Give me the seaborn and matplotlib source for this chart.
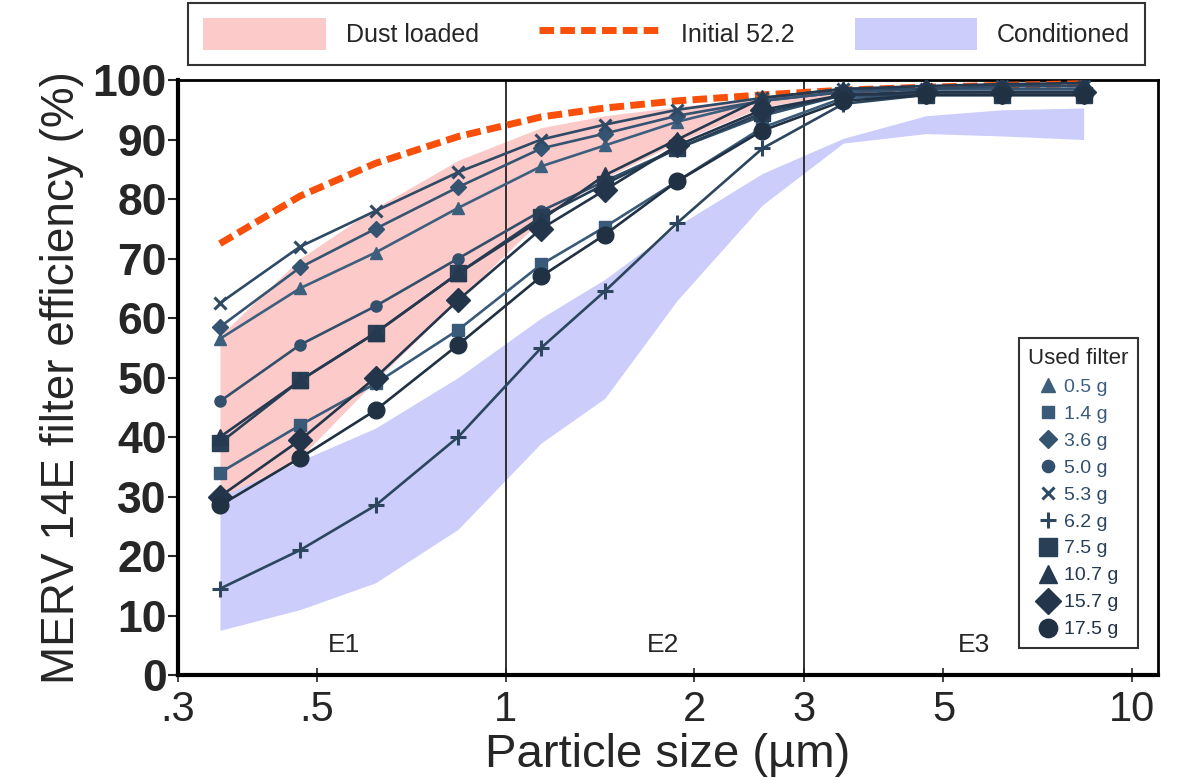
import matplotlib
matplotlib.use("Agg")
import matplotlib.pyplot as plt
import seaborn as sns
from matplotlib.lines import Line2D
from matplotlib.patches import Patch
from matplotlib.ticker import FixedLocator, FixedFormatter, NullLocator

# ---------------- data ----------------
particle_size = [0.35, 0.47, 0.62, 0.84, 1.14, 1.44, 1.88, 2.57, 3.46, 4.69, 6.2, 8.37]

initial_522 = [72.5, 80.5, 86.0, 90.5, 93.8, 95.3, 96.5, 97.5, 98.3, 98.8, 99.1, 99.4]

dust_sizes = [0.35, 0.47, 0.62, 0.84, 1.14, 1.44, 1.88, 2.57, 3.46]
dust_upper = [57.0, 70.0, 78.5, 86.5, 92.0, 94.0, 95.5, 97.0, 98.3]
dust_lower = [29.5, 36.5, 49.5, 63.0, 76.5, 83.5, 89.5, 95.5, 97.5]

cond_upper = [30.0, 36.0, 41.5, 50.0, 60.0, 66.5, 75.5, 84.3, 90.2, 94.0, 95.0, 95.3]
cond_lower = [7.5, 11.0, 15.5, 24.5, 39.0, 46.5, 63.0, 79.0, 89.4, 91.0, 90.6, 90.0]

filter_labels = ["0.5 g", "1.4 g", "3.6 g", "5.0 g", "5.3 g", "6.2 g",
                 "7.5 g", "10.7 g", "15.7 g", "17.5 g"]
f_05 = [56.5, 65.0, 71.0, 78.5, 85.5, 89.0, 93.0, 96.5, 98.0, 98.5, 99.0, 99.0]
f_14 = [34.0, 42.0, 49.0, 58.0, 69.0, 75.3, 83.0, 92.0, 97.0, 97.5, 97.5, 97.5]
f_36 = [58.5, 68.5, 75.0, 82.0, 88.5, 91.0, 94.0, 96.5, 98.0, 98.5, 98.5, 98.5]
f_50 = [46.0, 55.5, 62.0, 70.0, 78.0, 83.0, 88.5, 94.0, 97.5, 98.0, 98.0, 98.0]
f_53 = [62.5, 72.0, 78.0, 84.5, 90.0, 92.5, 95.0, 97.0, 98.5, 98.5, 99.0, 99.0]
f_62 = [14.5, 21.0, 28.5, 40.0, 55.0, 64.5, 76.0, 88.5, 96.0, 97.5, 97.5, 97.5]
f_75 = [39.0, 49.5, 57.5, 67.5, 77.0, 82.5, 88.5, 94.5, 97.5, 97.5, 97.5, 97.5]
f_107 = [40.0, 49.5, 57.5, 67.5, 76.5, 84.0, 90.0, 97.0, 98.5, 99.0, 99.3, 99.5]
f_157 = [30.0, 39.5, 50.0, 63.0, 75.0, 81.5, 89.0, 95.0, 97.5, 98.0, 98.0, 98.0]
f_175 = [28.5, 36.5, 44.5, 55.5, 67.0, 74.0, 83.0, 91.5, 96.5, 97.5, 97.5, 97.5]
filter_values = [f_05, f_14, f_36, f_50, f_53, f_62, f_75, f_107, f_157, f_175]

x_ticks = [0.3, 0.5, 1, 2, 3, 5, 10]
x_tick_labels = [".3", ".5", "1", "2", "3", "5", "10"]
y_ticks = [0, 10, 20, 30, 40, 50, 60, 70, 80, 90, 100]
region_labels = ["E1", "E2", "E3"]
region_label_x = [0.552, 1.785, 5.6]
region_bounds = [1, 3]

# ---------------- style ----------------
markers = ["^", "s", "D", "o", "x", "+", "s", "^", "D", "o"]
msizes = [9, 8, 8, 8, 8, 11, 12, 12, 12, 12]
colors = ["#3d5f7e", "#395a78", "#355472", "#324f6b", "#2f4a65", "#2c465f",
          "#283f56", "#253a50", "#22354a", "#1f3143"]
PINK = "#fdcaca"
BLUE = "#cccdfb"
ORANGE = "#f84f0a"

sns.set_style("ticks")
plt.rcParams["font.family"] = ["Liberation Sans", "DejaVu Sans"]

fig = plt.figure(figsize=(11.78, 7.8), dpi=100)
ax = fig.add_axes([0.1511, 0.1346, 0.8319, 0.7628])

ax.fill_between(dust_sizes, dust_lower, dust_upper, color=PINK, lw=0, zorder=1)
ax.fill_between(particle_size, cond_lower, cond_upper, color=BLUE, lw=0, zorder=1)

for xb in region_bounds:
    ax.axvline(xb, color="#222222", lw=1.3, zorder=2)

sns.lineplot(x=particle_size, y=initial_522, ax=ax, color=ORANGE, lw=5,
             linestyle=(0, (2.1, 0.9)), legend=False, zorder=3)

for vals, mk, ms, col in zip(filter_values, markers, msizes, colors):
    mew = 2.2 if mk in ("x", "+") else 1.0
    sns.lineplot(x=particle_size, y=vals, ax=ax, color=col, lw=1.9,
                 marker=mk, markersize=ms, markeredgecolor=col,
                 markerfacecolor=col, markeredgewidth=mew,
                 legend=False, zorder=4)

for lab, xp in zip(region_labels, region_label_x):
    ax.text(xp, 5, lab, fontsize=19, ha="center", va="center", zorder=5)

ax.set_xscale("log")
ax.set_xlim(0.3, 11)
ax.set_ylim(0, 100)
ax.xaxis.set_major_locator(FixedLocator(x_ticks))
ax.xaxis.set_major_formatter(FixedFormatter(x_tick_labels))
ax.xaxis.set_minor_locator(NullLocator())
ax.set_yticks(y_ticks)
ax.tick_params(axis="y", direction="out", length=7, width=1.5, labelsize=32, pad=1)
ax.tick_params(axis="x", direction="inout", length=10, width=1.2, labelsize=30, pad=6)
for t in ax.get_yticklabels():
    t.set_fontweight("bold")

ax.set_xlabel("Particle size (µm)", fontsize=34, labelpad=2)
ax.set_ylabel("MERV 14E filter efficiency (%)", fontsize=33, labelpad=6)

for side in ["left", "bottom"]:
    ax.spines[side].set_linewidth(3)
for side in ["top", "right"]:
    ax.spines[side].set_linewidth(2)
for s in ax.spines.values():
    s.set_color("black")

# top legend
top_handles = [Patch(facecolor=PINK, edgecolor="none"),
               Line2D([], [], color=ORANGE, lw=5, linestyle=(0, (2.1, 0.9))),
               Patch(facecolor=BLUE, edgecolor="none")]
top_labels = ["Dust loaded", "Initial 52.2", "Conditioned"]
leg_top = fig.legend(top_handles, top_labels, loc="lower left",
                     bbox_to_anchor=(0.16, 0.917, 0.812, 0.077), mode="expand",
                     ncol=3, fontsize=18, frameon=True, fancybox=False,
                     edgecolor="black", handlelength=4.9, handleheight=1.6,
                     handletextpad=0.8, borderaxespad=0.0, borderpad=0.6)
leg_top.get_frame().set_linewidth(1.5)

# right legend
f_handles = [Line2D([], [], linestyle="none", marker=mk, markersize=ms * 1.1,
                    color=col, markeredgewidth=(2.2 if mk in ("x", "+") else 1.0))
             for mk, ms, col in zip(markers, msizes, colors)]
leg = ax.legend(f_handles, filter_labels, title="Used filter", loc="lower right",
                bbox_to_anchor=(0.99, 0.029), fontsize=14, title_fontsize=16,
                frameon=True, fancybox=False, edgecolor="black",
                handlelength=1.0, handletextpad=0.3, labelspacing=0.48,
                borderpad=0.5)
leg.get_frame().set_linewidth(1.5)
for txt, col in zip(leg.get_texts(), colors):
    txt.set_color(col)
leg.set_zorder(10)

fig.savefig("out.png", dpi=100)
